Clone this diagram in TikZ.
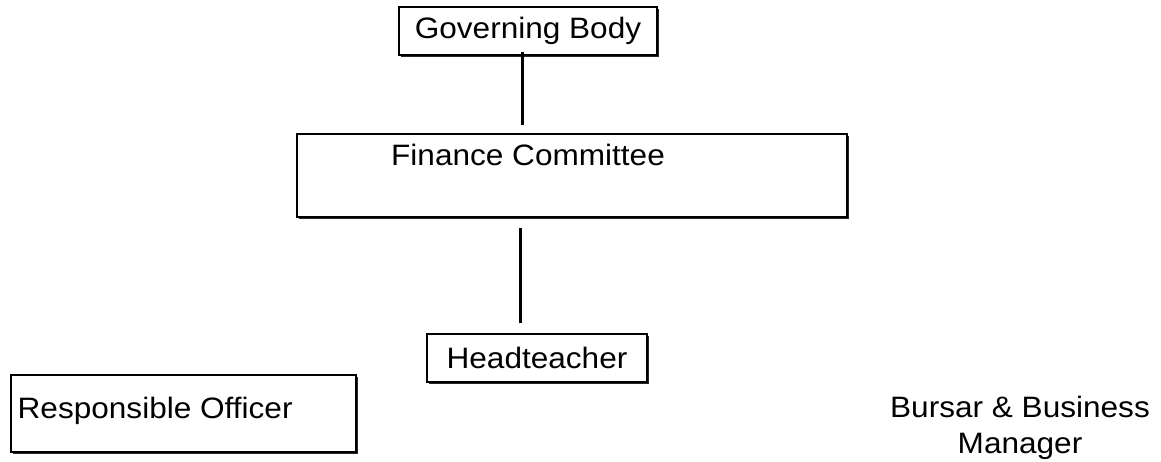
\documentclass[tikz,border=0pt]{standalone}
\usepackage{fontspec}
\setmainfont{Liberation Sans}[FakeStretch=1.07]
\usetikzlibrary{shadows}
\begin{document}
\begin{tikzpicture}[x=1pt,y=-1pt,
  every node/.style={font=\fontsize{29.5}{36}\selectfont, inner sep=0pt, text=black},
  orgbox/.style={draw=black, line width=1.9pt, fill=white, rectangle,
    drop shadow={shadow xshift=2.4pt, shadow yshift=-2.4pt, fill=black!85, opacity=1}},
  conn/.style={draw=black, line width=3pt},
  lbl/.style={anchor=base west}
]
\useasboundingbox[fill=white] (0,0) rectangle (1161,462);

\node[orgbox, minimum width=258pt, minimum height=48pt] (gb) at (528,31) {Governing Body};
\node[orgbox, minimum width=550pt, minimum height=83pt] (fc) at (572,175.5) {};
\node[lbl] (fct) at (391,166) {Finance Committee};
\node[orgbox, minimum width=220pt, minimum height=48pt] (ht) at (537,358) {Headteacher};
\node[orgbox, minimum width=345pt, minimum height=77pt] (ro) at (183.5,413.5) {};
\node[lbl] (rot) at (17.5,418) {Responsible Officer};
\node[align=center, anchor=base] (bb) at (1020,453) {Bursar \& Business\\Manager};

\coordinate (c1) at (522,52);
\coordinate (c2) at (522,125);
\coordinate (c3) at (520,228);
\coordinate (c4) at (520,323);
\draw[conn] (c1) -- (c2);
\draw[conn] (c3) -- (c4);
\end{tikzpicture}
\end{document}
